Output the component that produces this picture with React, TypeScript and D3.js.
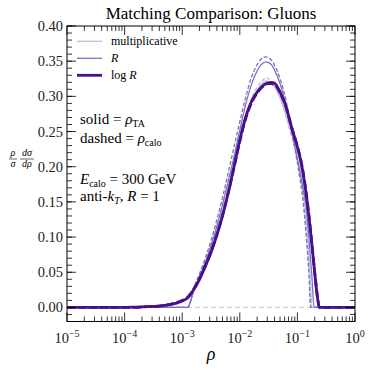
import React from "react";
import { scaleLog, scaleLinear, line, curveMonotoneX, range } from "d3";

// rho grid shared by every curve in the middle of the distribution
const rhoMid = [
  1.26e-3, 1.41e-3, 1.58e-3, 2.0e-3, 2.51e-3, 3.16e-3, 3.98e-3, 5.01e-3, 6.31e-3, 7.94e-3,
  0.01, 0.0126, 0.0158, 0.02, 0.0251, 0.0282, 0.0316, 0.0355, 0.0398, 0.0501,
  0.0631, 0.0794, 0.1, 0.112, 0.126, 0.141, 0.158,
];

// low rho tail (only log R has a smooth tail, the others are cut at ~1.2e-3)
const rhoLow = [1e-5, 1e-4, 2.51e-4, 5.01e-4, 7.94e-4, 1.12e-3];
const logRLow = [0, 0, 0.001, 0.003, 0.006, 0.011];
const logRDashLow = [0, 0, 0.001, 0.003, 0.007, 0.012];

// values on rhoMid
const multSolid = [0, 0.01, 0.024, 0.043, 0.062, 0.084, 0.108, 0.136, 0.167, 0.2, 0.235, 0.266, 0.29, 0.308, 0.319, 0.322, 0.321, 0.318, 0.314, 0.298, 0.275, 0.248, 0.222, 0.2, 0.17, 0.13, 0.075];
const multDashed = [0, 0.01, 0.025, 0.045, 0.065, 0.088, 0.113, 0.142, 0.174, 0.207, 0.242, 0.272, 0.296, 0.313, 0.323, 0.326, 0.325, 0.321, 0.316, 0.298, 0.272, 0.243, 0.214, 0.19, 0.158, 0.115, 0.06];
const rSolid = [0, 0.01, 0.024, 0.044, 0.064, 0.088, 0.115, 0.146, 0.18, 0.214, 0.252, 0.288, 0.316, 0.336, 0.347, 0.349, 0.348, 0.345, 0.338, 0.318, 0.288, 0.25, 0.21, 0.19, 0.168, 0.145, 0.1];
const rDashed = [0, 0.01, 0.026, 0.048, 0.07, 0.095, 0.124, 0.156, 0.192, 0.228, 0.264, 0.298, 0.326, 0.345, 0.355, 0.356, 0.355, 0.351, 0.345, 0.325, 0.295, 0.252, 0.205, 0.18, 0.15, 0.105, 0.05];
const logRSolid = [0.014, 0.019, 0.025, 0.04, 0.058, 0.078, 0.102, 0.13, 0.163, 0.2, 0.238, 0.27, 0.292, 0.306, 0.315, 0.318, 0.319, 0.32, 0.319, 0.306, 0.286, 0.256, 0.228, 0.212, 0.19, 0.163, 0.13];
const logRDashed = [0.015, 0.02, 0.026, 0.041, 0.059, 0.079, 0.103, 0.131, 0.163, 0.199, 0.236, 0.268, 0.29, 0.305, 0.314, 0.317, 0.318, 0.318, 0.317, 0.305, 0.285, 0.256, 0.229, 0.213, 0.192, 0.165, 0.132];

// high rho end of each curve
const multSolidEndRho = [0.182, 1];
const multDashedEndRho = [0.174, 1];
const rSolidEndRho = [0.178, 0.195, 1];
const rSolidEnd = [0.045, 0, 0];
const rDashedEndRho = [0.17, 1];
const logREndRho = [0.178, 0.2, 0.224, 0.24, 1];
const logRSolidEnd = [0.09, 0.048, 0.013, 0, 0];
const logRDashedEnd = [0.092, 0.05, 0.014, 0, 0];

const xTicks = [1e-5, 1e-4, 1e-3, 1e-2, 1e-1, 1];
const xTickExp = ["\u22125", "\u22124", "\u22123", "\u22122", "\u22121", "0"];
const yTicks = [0, 0.05, 0.1, 0.15, 0.2, 0.25, 0.3, 0.35, 0.4];

const legendNames = ["multiplicative", "R", "log R"];

const W = 374;
const H = 374;
const m = { left: 67, right: 355, top: 26, bottom: 321.5 };
const FONT = "'Liberation Serif', 'DejaVu Serif', serif";
const cMult = "#bcbddc";
const cR = "#7b72c0";
const cLog = "#4a0f8a";

const x = scaleLog().domain([1e-5, 1]).range([m.left, m.right]);
const y = scaleLinear().domain([-0.02, 0.4]).range([m.bottom, m.top]);

const path = line<[number, number]>()
  .x((d) => x(d[0]))
  .y((d) => y(d[1]))
  .curve(curveMonotoneX);

const zip = (a: number[], b: number[]) => a.map((v, i) => [v, b[i]] as [number, number]);

const series = [
  { pts: zip([1e-5, ...rhoMid, ...multSolidEndRho], [0, ...multSolid, 0, 0]), color: cMult, w: 1.3, dash: "" },
  { pts: zip([1e-5, ...rhoMid, ...multDashedEndRho], [0, ...multDashed, 0, 0]), color: cMult, w: 1.3, dash: "4,2" },
  { pts: zip([1e-5, ...rhoMid, ...rSolidEndRho], [0, ...rSolid, ...rSolidEnd]), color: cR, w: 1.3, dash: "" },
  { pts: zip([1e-5, ...rhoMid, ...rDashedEndRho], [0, ...rDashed, 0, 0]), color: cR, w: 1.3, dash: "4,2" },
  { pts: zip([...rhoLow, ...rhoMid, ...logREndRho], [...logRLow, ...logRSolid, ...logRSolidEnd]), color: cLog, w: 2.8, dash: "" },
  { pts: zip([...rhoLow, ...rhoMid, ...logREndRho], [...logRDashLow, ...logRDashed, ...logRDashedEnd]), color: cLog, w: 2.8, dash: "8,3" },
];

const legendStyle = [
  { color: cMult, w: 1.3 },
  { color: cR, w: 1.3 },
  { color: cLog, w: 2.8 },
];

export default function App() {
  const minorX: number[] = [];
  xTicks.slice(0, -1).forEach((t) => range(2, 10).forEach((k) => minorX.push(t * k)));
  const minorY = range(-2, 41).map((k) => k / 100);

  return (
    <svg width={W} height={H} style={{ position: "absolute", left: 0, top: 0, background: "#fff" }} fontFamily={FONT}>
      <defs>
        <clipPath id="plot">
          <rect x={m.left} y={m.top} width={m.right - m.left} height={m.bottom - m.top} />
        </clipPath>
      </defs>

      <text x={(m.left + m.right) / 2} y={19} fontSize={17} textAnchor="middle">
        Matching Comparison: Gluons
      </text>

      <g clipPath="url(#plot)">
        <line x1={m.left} x2={m.right} y1={y(0)} y2={y(0)} stroke="#cccccc" strokeWidth={1} strokeDasharray="5,3" />
        {series.map((s, i) => (
          <path key={i} d={path(s.pts) || ""} fill="none" stroke={s.color} strokeWidth={s.w}
            strokeDasharray={s.dash || undefined} strokeLinejoin="round" />
        ))}
      </g>

      <rect x={m.left} y={m.top} width={m.right - m.left} height={m.bottom - m.top} fill="none" stroke="#000" strokeWidth={1} />

      {/* ticks, inward on all sides */}
      <g stroke="#000" strokeWidth={0.8}>
        {xTicks.map((t) => (
          <g key={"xm" + t}>
            <line x1={x(t)} x2={x(t)} y1={m.bottom} y2={m.bottom - 9} />
            <line x1={x(t)} x2={x(t)} y1={m.top} y2={m.top + 9} />
          </g>
        ))}
        {minorX.map((t) => (
          <g key={"xn" + t}>
            <line x1={x(t)} x2={x(t)} y1={m.bottom} y2={m.bottom - 5} />
            <line x1={x(t)} x2={x(t)} y1={m.top} y2={m.top + 5} />
          </g>
        ))}
        {yTicks.map((t) => (
          <g key={"ym" + t}>
            <line x1={m.left} x2={m.left + 9} y1={y(t)} y2={y(t)} />
            <line x1={m.right} x2={m.right - 9} y1={y(t)} y2={y(t)} />
          </g>
        ))}
        {minorY.map((t) => (
          <g key={"yn" + t}>
            <line x1={m.left} x2={m.left + 5} y1={y(t)} y2={y(t)} />
            <line x1={m.right} x2={m.right - 5} y1={y(t)} y2={y(t)} />
          </g>
        ))}
      </g>

      {yTicks.map((t) => (
        <text key={"yl" + t} x={m.left - 4} y={y(t) + 5} fontSize={14.5} textAnchor="end" fill="#222">
          {t.toFixed(2)}
        </text>
      ))}
      {xTicks.map((t, i) => (
        <text key={"xl" + t} x={x(t)} y={343} fontSize={14.5} textAnchor="middle" fill="#222">
          10<tspan dy={-6} fontSize={10}>{xTickExp[i]}</tspan>
        </text>
      ))}
      <text x={(m.left + m.right) / 2} y={360} fontSize={18} fontStyle="italic" textAnchor="middle">ρ</text>

      {/* y label: rho/sigma dsigma/drho */}
      <g fontSize={10} textAnchor="middle">
        <text x={13} y={156} fontStyle="italic">ρ</text>
        <line x1={9} x2={17} y1={159} y2={159} stroke="#000" strokeWidth={0.6} />
        <text x={13} y={167} fontStyle="italic">σ</text>
        <text x={27} y={156} fontStyle="italic">dσ</text>
        <line x1={20} x2={34} y1={159} y2={159} stroke="#000" strokeWidth={0.6} />
        <text x={27} y={167} fontStyle="italic">dρ</text>
      </g>

      {/* legend */}
      {legendNames.map((n, i) => {
        const ly = 41.3 + i * 17;
        return (
          <g key={n}>
            <line x1={77} x2={102} y1={ly} y2={ly} stroke={legendStyle[i].color} strokeWidth={legendStyle[i].w} />
            {i === 0 && <text x={111} y={ly + 4} fontSize={12}>{n}</text>}
            {i === 1 && <text x={111} y={ly + 4} fontSize={12} fontStyle="italic">{n}</text>}
            {i === 2 && (
              <text x={111} y={ly + 4} fontSize={12}>
                log <tspan fontStyle="italic">R</tspan>
              </text>
            )}
          </g>
        );
      })}

      <g fontSize={15}>
        <text x={80} y={124}>
          solid = <tspan fontStyle="italic">ρ</tspan><tspan fontSize={10} dy={3}>TA</tspan>
        </text>
        <text x={80} y={143}>
          dashed = <tspan fontStyle="italic">ρ</tspan><tspan fontSize={10} dy={3}>calo</tspan>
        </text>
        <text x={80} y={184}>
          <tspan fontStyle="italic">E</tspan><tspan fontSize={10} dy={3}>calo</tspan><tspan dy={-3}> = 300 GeV</tspan>
        </text>
        <text x={80} y={201}>
          anti-<tspan fontStyle="italic">k</tspan><tspan fontSize={10} dy={3} fontStyle="italic">T</tspan>
          <tspan dy={-3}>, </tspan><tspan fontStyle="italic">R</tspan> = 1
        </text>
      </g>
    </svg>
  );
}
